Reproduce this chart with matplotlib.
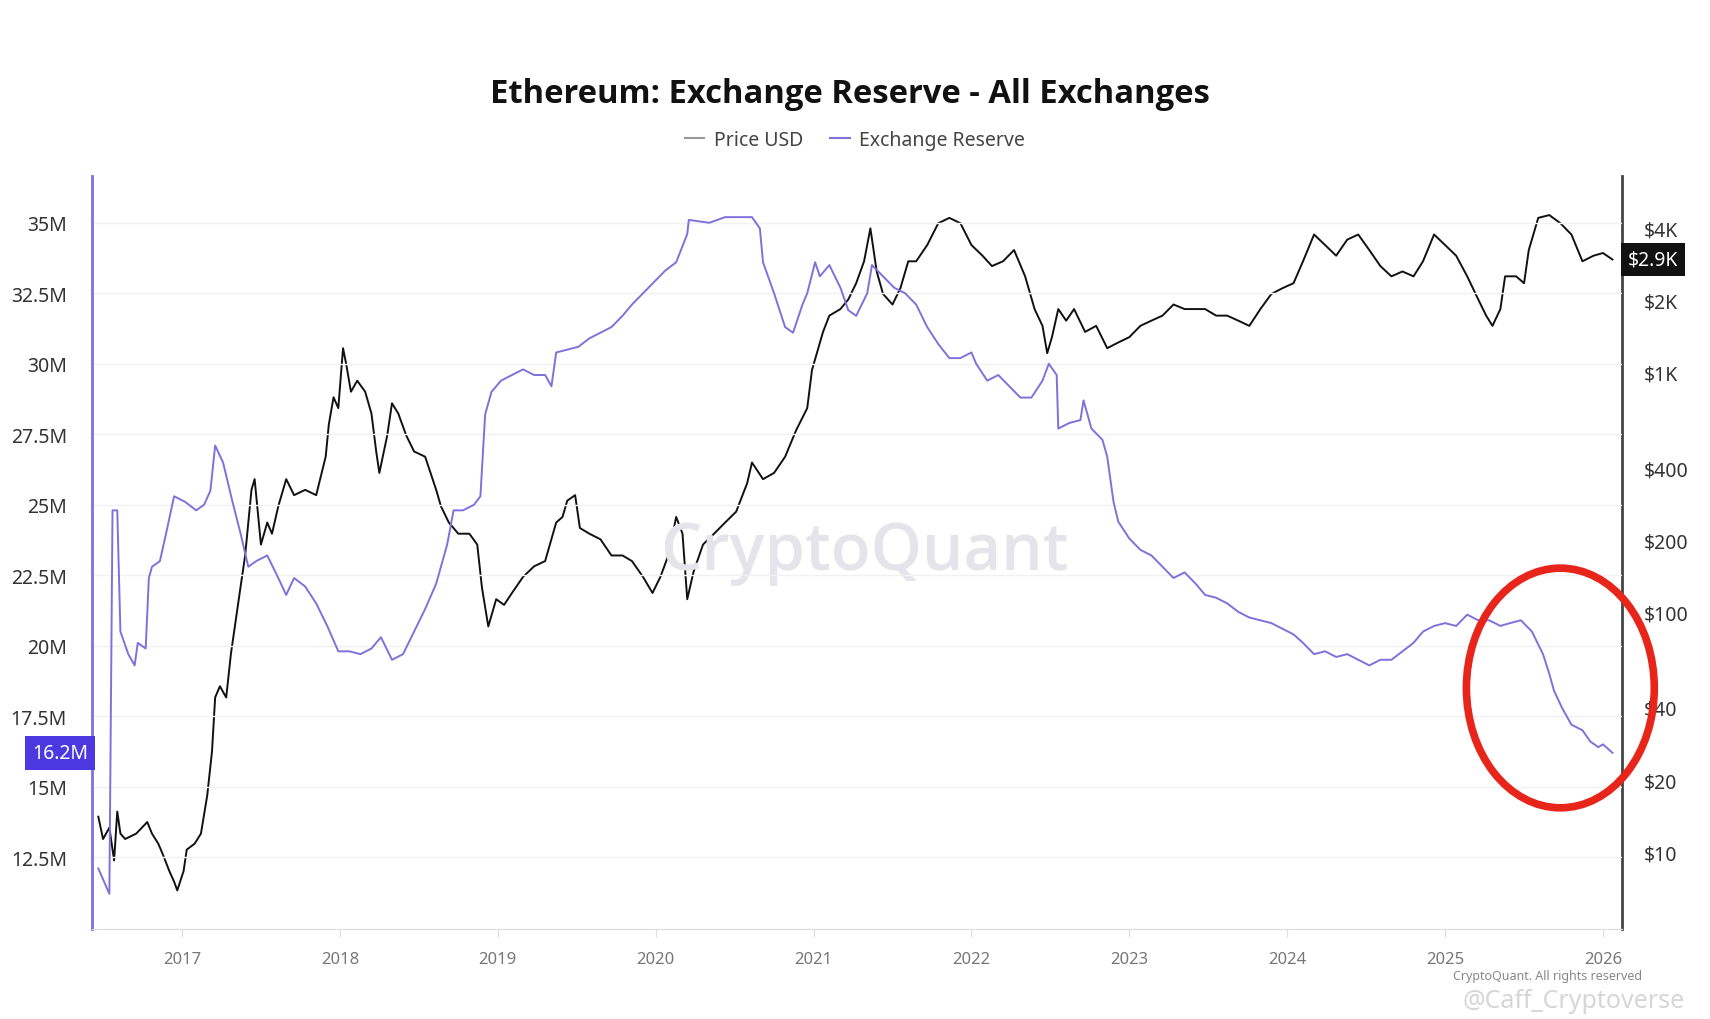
import matplotlib.pyplot as plt
from matplotlib.patches import Ellipse
from matplotlib.lines import Line2D
from matplotlib.ticker import FixedLocator, NullLocator

plt.rcParams['font.family'] = ['Noto Sans', 'DejaVu Sans']

# Exchange reserve (millions of ETH)
res_years = [2016.47, 2016.54, 2016.56, 2016.59, 2016.61, 2016.66, 2016.70, 2016.72, 2016.77,
             2016.79, 2016.81, 2016.86, 2016.90, 2016.95, 2017.02, 2017.09, 2017.14, 2017.18,
             2017.21, 2017.26, 2017.32, 2017.37, 2017.42, 2017.47, 2017.54, 2017.61, 2017.66,
             2017.71, 2017.78, 2017.85, 2017.92, 2017.99, 2018.06, 2018.13, 2018.20, 2018.26,
             2018.33, 2018.40, 2018.47, 2018.54, 2018.61, 2018.68, 2018.72, 2018.78, 2018.85,
             2018.89, 2018.92, 2018.96, 2019.02, 2019.09, 2019.16, 2019.23, 2019.30, 2019.34,
             2019.37, 2019.44, 2019.51, 2019.58, 2019.65, 2019.72, 2019.79, 2019.85, 2019.92,
             2019.99, 2020.06, 2020.13, 2020.20, 2020.21, 2020.34, 2020.44, 2020.55, 2020.61,
             2020.66, 2020.68, 2020.75, 2020.82, 2020.87, 2020.93, 2020.96, 2021.01, 2021.04,
             2021.10, 2021.17, 2021.22, 2021.27, 2021.34, 2021.37, 2021.44, 2021.51, 2021.58,
             2021.65, 2021.72, 2021.79, 2021.86, 2021.93, 2022.00, 2022.03, 2022.10, 2022.17,
             2022.24, 2022.31, 2022.38, 2022.45, 2022.49, 2022.54, 2022.55, 2022.62, 2022.69,
             2022.71, 2022.76, 2022.83, 2022.86, 2022.90, 2022.93, 2023.00, 2023.07, 2023.14,
             2023.21, 2023.28, 2023.35, 2023.42, 2023.48, 2023.55, 2023.62, 2023.69, 2023.76,
             2023.83, 2023.90, 2023.97, 2024.04, 2024.10, 2024.17, 2024.24, 2024.31, 2024.38,
             2024.45, 2024.52, 2024.59, 2024.66, 2024.73, 2024.80, 2024.86, 2024.93, 2025.00,
             2025.07, 2025.14, 2025.21, 2025.28, 2025.35, 2025.41, 2025.48, 2025.55, 2025.62,
             2025.66, 2025.69, 2025.74, 2025.80, 2025.87, 2025.92, 2025.97, 2026.00, 2026.06]
res_values = [12.1, 11.2, 24.8, 24.8, 20.5, 19.7, 19.3, 20.1, 19.9,
              22.4, 22.8, 23.0, 24.0, 25.3, 25.1, 24.8, 25.0, 25.5,
              27.1, 26.5, 25.1, 24.0, 22.8, 23.0, 23.2, 22.4, 21.8,
              22.4, 22.1, 21.5, 20.7, 19.8, 19.8, 19.7, 19.9, 20.3,
              19.5, 19.7, 20.5, 21.3, 22.2, 23.6, 24.8, 24.8, 25.0,
              25.3, 28.2, 29.0, 29.4, 29.6, 29.8, 29.6, 29.6, 29.2,
              30.4, 30.5, 30.6, 30.9, 31.1, 31.3, 31.7, 32.1, 32.5,
              32.9, 33.3, 33.6, 34.6, 35.1, 35.0, 35.2, 35.2, 35.2,
              34.8, 33.6, 32.5, 31.3, 31.1, 32.1, 32.5, 33.6, 33.1,
              33.5, 32.7, 31.9, 31.7, 32.5, 33.5, 33.1, 32.7, 32.5,
              32.1, 31.3, 30.7, 30.2, 30.2, 30.4, 30.0, 29.4, 29.6,
              29.2, 28.8, 28.8, 29.4, 30.0, 29.6, 27.7, 27.9, 28.0,
              28.7, 27.7, 27.3, 26.7, 25.1, 24.4, 23.8, 23.4, 23.2,
              22.8, 22.4, 22.6, 22.2, 21.8, 21.7, 21.5, 21.2, 21.0,
              20.9, 20.8, 20.6, 20.4, 20.1, 19.7, 19.8, 19.6, 19.7,
              19.5, 19.3, 19.5, 19.5, 19.8, 20.1, 20.5, 20.7, 20.8,
              20.7, 21.1, 20.9, 20.9, 20.7, 20.8, 20.9, 20.5, 19.7,
              19.0, 18.4, 17.8, 17.2, 17.0, 16.6, 16.4, 16.5, 16.2]

# ETH price (USD)
price_years = [2016.47, 2016.50, 2016.54, 2016.57, 2016.59, 2016.61, 2016.64, 2016.71, 2016.78,
               2016.81, 2016.85, 2016.88, 2016.92, 2016.95, 2016.97, 2017.01, 2017.03, 2017.08,
               2017.12, 2017.16, 2017.19, 2017.21, 2017.24, 2017.28, 2017.31, 2017.34, 2017.37,
               2017.40, 2017.44, 2017.46, 2017.48, 2017.50, 2017.54, 2017.57, 2017.61, 2017.66,
               2017.71, 2017.78, 2017.85, 2017.91, 2017.93, 2017.96, 2017.99, 2018.02, 2018.04,
               2018.07, 2018.11, 2018.16, 2018.20, 2018.23, 2018.25, 2018.30, 2018.33, 2018.37,
               2018.42, 2018.47, 2018.54, 2018.61, 2018.64, 2018.69, 2018.75, 2018.82, 2018.87,
               2018.90, 2018.94, 2018.99, 2019.04, 2019.09, 2019.16, 2019.23, 2019.30, 2019.37,
               2019.41, 2019.44, 2019.49, 2019.52, 2019.58, 2019.65, 2019.72, 2019.79, 2019.85,
               2019.92, 2019.98, 2020.03, 2020.08, 2020.13, 2020.17, 2020.20, 2020.24, 2020.30,
               2020.37, 2020.44, 2020.51, 2020.58, 2020.61, 2020.68, 2020.75, 2020.82, 2020.89,
               2020.96, 2020.99, 2021.03, 2021.06, 2021.10, 2021.17, 2021.22, 2021.27, 2021.32,
               2021.36, 2021.40, 2021.44, 2021.50, 2021.55, 2021.60, 2021.65, 2021.72, 2021.79,
               2021.86, 2021.93, 2022.00, 2022.07, 2022.13, 2022.20, 2022.27, 2022.34, 2022.40,
               2022.45, 2022.48, 2022.51, 2022.55, 2022.60, 2022.65, 2022.72, 2022.79, 2022.86,
               2022.93, 2023.00, 2023.07, 2023.14, 2023.21, 2023.28, 2023.35, 2023.42, 2023.48,
               2023.55, 2023.62, 2023.69, 2023.76, 2023.83, 2023.90, 2023.97, 2024.04, 2024.10,
               2024.17, 2024.24, 2024.31, 2024.38, 2024.45, 2024.52, 2024.59, 2024.66, 2024.73,
               2024.80, 2024.86, 2024.93, 2025.00, 2025.07, 2025.14, 2025.21, 2025.26, 2025.30,
               2025.35, 2025.38, 2025.45, 2025.50, 2025.53, 2025.59, 2025.66, 2025.73, 2025.80,
               2025.87, 2025.94, 2026.00, 2026.06]
price_values = [14.0, 11.3, 12.6, 9.2, 14.7, 11.9, 11.3, 11.9, 13.3,
                11.9, 10.8, 9.7, 8.3, 7.5, 6.9, 8.3, 10.2, 10.8,
                11.9, 17.2, 26.2, 44, 49, 44, 67, 92, 126,
                172, 323, 358, 262, 191, 236, 212, 276, 358,
                307, 323, 307, 444, 606, 786, 708, 1259, 1080,
                829, 921, 829, 672, 467, 380, 545, 742, 672,
                545, 467, 444, 323, 276, 236, 212, 212, 191,
                126, 87, 113, 107, 120, 140, 155, 163, 236,
                249, 291, 307, 224, 212, 201, 172, 172, 163,
                140, 120, 140, 172, 249, 212, 113, 147, 191,
                212, 236, 262, 345, 420, 358, 380, 444, 573,
                708, 1020, 1259, 1472, 1721, 1833, 2010, 2350, 2900,
                3980, 2630, 2120, 1915, 2240, 2900, 2900, 3390, 4180,
                4400, 4180, 3390, 3060, 2770, 2900, 3230, 2510, 1833,
                1560, 1200, 1400, 1833, 1640, 1833, 1472, 1560, 1259,
                1330, 1400, 1560, 1640, 1721, 1915, 1833, 1833, 1833,
                1721, 1721, 1640, 1560, 1833, 2120, 2240, 2350, 2900,
                3750, 3390, 3060, 3570, 3750, 3230, 2770, 2510, 2630,
                2510, 2900, 3750, 3390, 3060, 2510, 2010, 1721, 1560,
                1833, 2510, 2510, 2350, 3230, 4400, 4520, 4180, 3750,
                2900, 3060, 3140, 2950]

res_ticks = [12.5, 15, 17.5, 20, 22.5, 25, 27.5, 30, 32.5, 35]
res_labels = ['12.5M', '15M', '17.5M', '20M', '22.5M', '25M', '27.5M', '30M', '32.5M', '35M']
price_ticks = [10, 20, 40, 100, 200, 400, 1000, 2000, 4000]
price_labels = ['$10', '$20', '$40', '$100', '$200', '$400', '$1K', '$2K', '$4K']
year_ticks = list(range(2017, 2027))

PURPLE = '#7d72dc'
BOX_PURPLE = '#4b38e0'

fig = plt.figure(figsize=(17.1, 10.2), dpi=100)
ax = fig.add_axes([0.0538, 0.0882, 0.8947, 0.7383])
ax2 = ax.twinx()

ax.set_xlim(2016.43, 2026.12)
ax.set_ylim(9.95, 36.66)
ax2.set_yscale('log')
ax2.set_ylim(4.76, 6580)

# watermark
ax.text(0.505, 0.5, 'CryptoQuant', transform=ax.transAxes, fontsize=47, color='#e4e4ea',
        ha='center', va='center', family=['Open Sans', 'DejaVu Sans'], fontweight='semibold',
        zorder=0)

ax.yaxis.grid(True, color='#f1f1f1', linewidth=1)
ax.set_axisbelow(True)

ax.plot(res_years, res_values, color=PURPLE, linewidth=1.4, zorder=3)
ax2.plot(price_years, price_values, color='#111111', linewidth=1.4, zorder=3)
ax.set_zorder(ax2.get_zorder() + 1)
ax.patch.set_visible(False)

ax.set_yticks(res_ticks)
ax.set_yticklabels(res_labels)
ax.tick_params(axis='y', length=0, pad=18, labelsize=14, labelcolor='#333333')
ax.set_xticks(year_ticks)
ax.set_xticklabels([str(y) for y in year_ticks])
ax.tick_params(axis='x', length=6, color='#dddddd', pad=10, labelsize=12, labelcolor='#777777')

ax2.yaxis.set_major_locator(FixedLocator(price_ticks))
ax2.yaxis.set_minor_locator(NullLocator())
ax2.set_yticklabels(price_labels)
ax2.tick_params(axis='y', which='both', length=0, pad=16, labelsize=14, labelcolor='#333333')

for a in (ax, ax2):
    a.spines['top'].set_visible(False)
    a.spines['bottom'].set_color('#dddddd')
ax.spines['left'].set_color(PURPLE)
ax.spines['left'].set_linewidth(2)
ax.spines['right'].set_visible(False)
ax2.spines['left'].set_visible(False)
ax2.spines['right'].set_color('#444444')
ax2.spines['right'].set_linewidth(2)

# last value markers
ax.annotate('16.2M', xy=(0, res_values[-1]), xycoords=('axes fraction', 'data'),
            xytext=(-3, 0), textcoords='offset points', ha='right', va='center',
            fontsize=14, color='white',
            bbox=dict(boxstyle='square,pad=0.35', facecolor=BOX_PURPLE, edgecolor='none'))
ax2.annotate('$2.9K', xy=(1, price_values[-1]), xycoords=('axes fraction', 'data'),
             xytext=(4, 0), textcoords='offset points', ha='left', va='center',
             fontsize=14, color='white',
             bbox=dict(boxstyle='square,pad=0.35', facecolor='#111111', edgecolor='none'))

# red highlight circle
ring = Ellipse((2025.73, 18.5), 1.19, 8.5, fill=False, edgecolor='#e8251a',
               linewidth=5.5, clip_on=False, zorder=5)
ax.add_patch(ring)

fig.suptitle('Ethereum: Exchange Reserve - All Exchanges', x=0.497, y=0.924,
             fontsize=23.6, fontweight='bold', color='#111111',
             family=['Open Sans', 'DejaVu Sans'])
handles = [Line2D([0], [0], color='#999999', linewidth=1.5),
           Line2D([0], [0], color=PURPLE, linewidth=1.5)]
fig.legend(handles, ['Price USD', 'Exchange Reserve'], loc='center', bbox_to_anchor=(0.5, 0.862),
           ncol=2, frameon=False, fontsize=14, handlelength=1.0, handletextpad=0.5,
           columnspacing=1.4, labelcolor='#444444')

fig.text(0.905, 0.043, 'CryptoQuant. All rights reserved', fontsize=9, color='#888888',
         ha='center', va='center')
fig.text(0.92, 0.018, '@Caff_Cryptoverse', fontsize=18, color='#cccccc', alpha=0.8,
         ha='center', va='center')

fig.savefig('out.png', dpi=100)
